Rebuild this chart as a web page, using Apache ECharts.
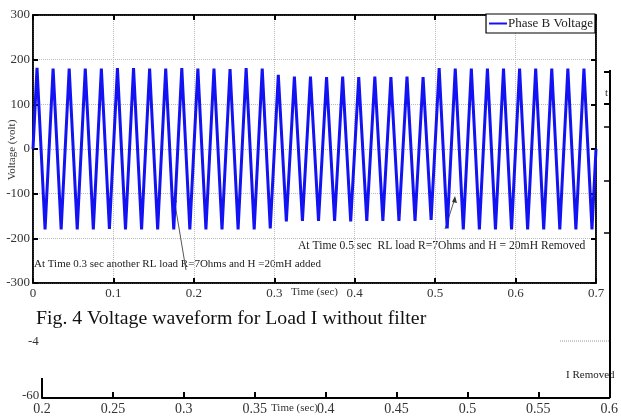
<!DOCTYPE html>
<html><head><meta charset="utf-8">
<script src="https://cdn.jsdelivr.net/npm/echarts@6/dist/echarts.min.js"></script>
<style>html,body{margin:0;padding:0;background:#fff}#c{width:621px;height:416px}</style>
</head><body><div id="c"></div>
<script>
// Values: one positive and one negative peak per 50 Hz cycle (0 .. 0.7 s)
const seriesName = 'Phase B Voltage';
const period = 0.02;
const posPeaks = [182,180,180,180,180,181,181,180,180,181,180,180,179,181,180,
                  166,162,162,161,162,161,162,161,162,161,
                  181,180,180,180,180,180,180,180,180,180];
const negPeaks = [-180,-180,-180,-180,-179,-180,-180,-180,-180,-180,-180,-180,-180,-180,-178,
                  -162,-161,-161,-161,-162,-161,-161,-161,-161,-159,
                  -178,-180,-180,-180,-180,-180,-180,-180,-180,-180];
const xTicks = [0,0.1,0.2,0.3,0.4,0.5,0.6,0.7];
const yTicks = [-300,-200,-100,0,100,200,300];
const lowerXTicks = ['0.2','0.25','0.3','0.35','0.4','0.45','0.5','0.55','0.6'];
const note1 = 'At Time 0.3 sec another RL load R=7Ohms and H =20mH added';
const note2 = 'At Time 0.5 sec  RL load R=7Ohms and H = 20mH Removed';
const caption = 'Fig. 4 Voltage waveform for Load I without filter';

const pts = [[0, 0]];
for (let k = 0; k < posPeaks.length; k++) {
  pts.push([k * period + period / 4, posPeaks[k]]);
  pts.push([k * period + 3 * period / 4, negPeaks[k]]);
}
pts.push([posPeaks.length * period, 0]);

const chart = echarts.init(document.getElementById('c'), null, {renderer: 'canvas'});
const F = 'Liberation Serif';
const G = {left: 33, right: 25, top: 15, bottom: 133};
const tick = {inside: true, length: 5, lineStyle: {color: '#000', width: 2}};
const opt = {
  animation: false,
  textStyle: {fontFamily: F},
  grid: [
    {left: G.left, right: G.right, top: G.top, bottom: G.bottom, show: true, borderColor: '#000', borderWidth: 1.5},
    {left: 42, right: 11, top: 330, bottom: 18, show: false}
  ],
  legend: {
    data: [seriesName], right: 26, top: 14, orient: 'vertical',
    backgroundColor: '#fff', borderColor: '#000', borderWidth: 1.2, borderRadius: 0,
    padding: [3, 2, 3, 3], itemWidth: 18, itemHeight: 2, itemGap: 0,
    icon: 'rect', textStyle: {fontFamily: F, fontSize: 13, color: '#222', padding: [0, 0, 0, -4]}
  },
  xAxis: [
    {gridIndex: 0, type: 'value', min: 0, max: 0.7, interval: 0.1,
     axisLine: {onZero: false, lineStyle: {color: '#000', width: 1.5}},
     axisTick: tick,
     axisLabel: {fontFamily: F, fontSize: 13, color: '#333', margin: 4,
       formatter: v => xTicks.indexOf(Math.round(v * 10) / 10) >= 0 ? String(Math.round(v * 10) / 10) : ''},
     splitLine: {show: true, lineStyle: {color: '#bbb', type: 'dotted', width: 1}}},
    {gridIndex: 1, type: 'value', min: 0.2, max: 0.6, interval: 0.05,
     axisLine: {onZero: false, lineStyle: {color: '#000', width: 2}},
     axisTick: {inside: true, length: 6, lineStyle: {color: '#000', width: 2}},
     axisLabel: {fontFamily: F, fontSize: 14, color: '#333', margin: 4,
       formatter: v => { const s = lowerXTicks.find(t => Math.abs(parseFloat(t) - v) < 1e-6); return s || ''; }},
     splitLine: {show: false}},
    {gridIndex: 0, type: 'value', position: 'top', min: 0, max: 0.7, interval: 0.1,
     axisLine: {onZero: false, lineStyle: {color: '#000', width: 1.5}},
     axisTick: tick, axisLabel: {show: false}, splitLine: {show: false}}
  ],
  yAxis: [
    {gridIndex: 0, type: 'value', min: -300, max: 300, interval: 100,
     axisLine: {onZero: false, lineStyle: {color: '#000', width: 1.5}},
     axisTick: tick,
     axisLabel: {fontFamily: F, fontSize: 13, color: '#333', margin: 3,
       formatter: v => yTicks.indexOf(v) >= 0 ? String(v) : ''},
     splitLine: {show: true, lineStyle: {color: '#bbb', type: 'dotted', width: 1}}},
    {gridIndex: 1, type: 'value', min: -60, max: -40, show: false},
    {gridIndex: 0, type: 'value', position: 'right', min: -300, max: 300, interval: 100,
     axisLine: {onZero: false, lineStyle: {color: '#000', width: 1.5}},
     axisTick: tick, axisLabel: {show: false}, splitLine: {show: false}}
  ],
  series: [{
    name: seriesName, type: 'line', xAxisIndex: 0, yAxisIndex: 0, data: pts,
    showSymbol: false, symbol: 'none', color: '#1212f2',
    lineStyle: {color: '#1212f2', width: 3}
  }],
  graphic: [
    {type: 'text', x: 12, y: 150, rotation: Math.PI / 2, style: {text: 'Voltage (volt)', font: '11px ' + F, fill: '#333', align: 'center', verticalAlign: 'middle'}},
    {type: 'text', x: 291, y: 287, style: {text: 'Time (sec)', font: '11px ' + F, fill: '#333'}},
    {type: 'text', x: 34, y: 259, style: {text: note1, font: '11px ' + F, fill: '#222'}},
    {type: 'text', x: 298, y: 240, style: {text: note2, font: '11.6px ' + F, fill: '#222'}},
    {type: 'line', shape: {x1: 186, y1: 270, x2: 174, y2: 198}, style: {stroke: '#555', lineWidth: 1}},
    {type: 'polygon', shape: {points: [[174, 196], [172, 203], [177, 202]]}, style: {fill: '#333'}},
    {type: 'line', shape: {x1: 445, y1: 229, x2: 455, y2: 198}, style: {stroke: '#555', lineWidth: 1}},
    {type: 'polygon', shape: {points: [[455, 196], [452, 202], [457, 203]]}, style: {fill: '#333'}},
    {type: 'text', x: 36, y: 309, style: {text: caption, font: '19.8px ' + F, fill: '#111'}},
    {type: 'text', x: 28, y: 335, style: {text: '-4', font: '13px ' + F, fill: '#333'}},
    {type: 'text', x: 22, y: 389, style: {text: '-60', font: '13px ' + F, fill: '#333'}},
    {type: 'text', x: 271, y: 403, style: {text: 'Time (sec)', font: '11px ' + F, fill: '#333'}},
    {type: 'text', x: 566, y: 370, style: {text: 'I Removed', font: '11px ' + F, fill: '#222'}},
    {type: 'line', shape: {x1: 42, y1: 378, x2: 42, y2: 398}, style: {stroke: '#000', lineWidth: 2}},
    {type: 'line', shape: {x1: 610, y1: 70, x2: 610, y2: 398}, style: {stroke: '#000', lineWidth: 2}},
    {type: 'line', shape: {x1: 604, y1: 72, x2: 610, y2: 72}, style: {stroke: '#000', lineWidth: 2}},
    {type: 'line', shape: {x1: 604, y1: 104, x2: 610, y2: 104}, style: {stroke: '#000', lineWidth: 2}},
    {type: 'line', shape: {x1: 604, y1: 127, x2: 610, y2: 127}, style: {stroke: '#000', lineWidth: 1.5}},
    {type: 'line', shape: {x1: 604, y1: 181, x2: 610, y2: 181}, style: {stroke: '#000', lineWidth: 1.5}},
    {type: 'line', shape: {x1: 604, y1: 233, x2: 610, y2: 233}, style: {stroke: '#000', lineWidth: 1.5}},
    {type: 'line', shape: {x1: 560, y1: 341, x2: 610, y2: 341}, style: {stroke: '#999', lineWidth: 1, lineDash: [1, 1]}},
    {type: 'text', x: 605, y: 88, style: {text: 't', font: '11px ' + F, fill: '#333'}}
  ]
};
chart.setOption(opt);
</script></body></html>
